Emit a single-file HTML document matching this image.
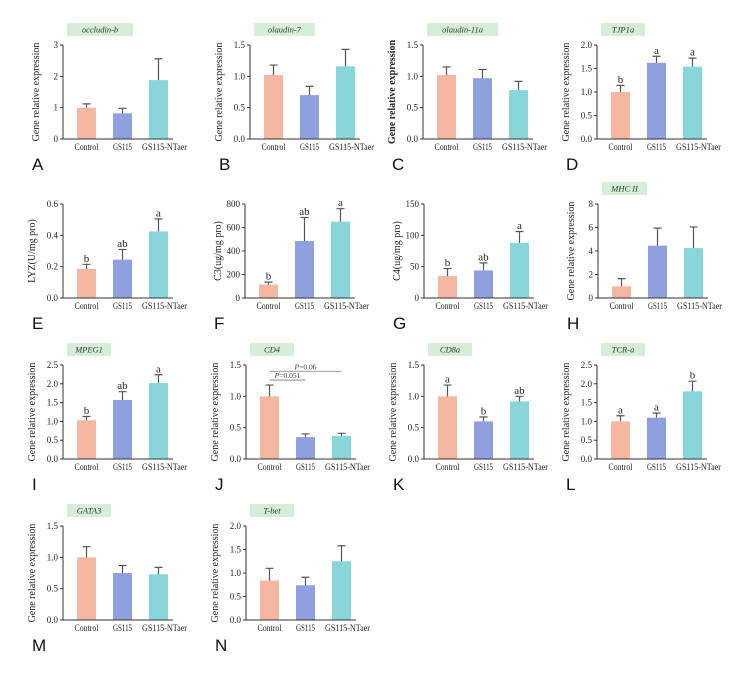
<!DOCTYPE html>
<html><head><meta charset="utf-8"><style>
html,body{margin:0;padding:0;background:#fff;}
svg{display:block;}
</style></head><body>
<svg id="fig" width="755" height="673" viewBox="0 0 755 673" xmlns="http://www.w3.org/2000/svg"></svg>
<script>
const categories = ["Control","GS115","GS115-NTaer"];
const barColors = ["#f5b6a2","#8ea0de","#88d6d9"];
// panel data
const meansA=[1.0,0.82,1.88], errsA=[0.12,0.16,0.68], ticksA=[0,1,2,3];
const meansB=[1.02,0.70,1.16], errsB=[0.16,0.14,0.27], ticksB=[0,0.5,1.0,1.5];
const meansC=[1.02,0.97,0.78], errsC=[0.13,0.14,0.14], ticksC=[0,0.5,1.0,1.5];
const meansD=[1.0,1.62,1.54], errsD=[0.14,0.14,0.18], ticksD=[0,0.5,1.0,1.5,2.0], lettersD=["b","a","a"];
const meansE=[0.185,0.245,0.425], errsE=[0.03,0.065,0.08], ticksE=[0,0.2,0.4,0.6], lettersE=["b","ab","a"];
const meansF=[115,485,650], errsF=[20,200,110], ticksF=[0,200,400,600,800], lettersF=["b","ab","a"];
const meansG=[35,44,88], errsG=[12,12,18], ticksG=[0,50,100,150], lettersG=["b","ab","a"];
const meansH=[1.0,4.45,4.25], errsH=[0.65,1.5,1.8], ticksH=[0,2,4,6,8];
const meansI=[1.03,1.57,2.02], errsI=[0.1,0.22,0.22], ticksI=[0,0.5,1.0,1.5,2.0,2.5], lettersI=["b","ab","a"];
const meansJ=[1.0,0.35,0.37], errsJ=[0.18,0.05,0.04], ticksJ=[0,0.5,1.0,1.5];
const bracketsJ=[{from:0,to:1,y:1.26,label:"=0.051"},{from:0,to:2,y:1.40,label:"=0.06"}];
const meansK=[1.0,0.6,0.92], errsK=[0.18,0.07,0.08], ticksK=[0,0.5,1.0,1.5], lettersK=["a","b","ab"];
const meansL=[1.0,1.1,1.8], errsL=[0.15,0.12,0.27], ticksL=[0,0.5,1.0,1.5,2.0,2.5], lettersL=["a","a","b"];
const meansM=[1.0,0.75,0.73], errsM=[0.17,0.12,0.11], ticksM=[0,0.5,1.0,1.5];
const meansN=[0.84,0.74,1.25], errsN=[0.26,0.17,0.33], ticksN=[0,0.5,1.0,1.5,2.0];

const GRE="Gene relative expression";
const panels=[
 {id:"A",x:63,b:139,title:"occludin-b",yl:GRE,m:meansA,e:errsA,t:ticksA,dec:0},
 {id:"B",x:250,b:139,title:"olaudin-7",yl:GRE,m:meansB,e:errsB,t:ticksB,dec:1},
 {id:"C",x:423,b:139,title:"olaudin-11a",yl:GRE,m:meansC,e:errsC,t:ticksC,dec:1,bold:true},
 {id:"D",x:597,b:139,title:"TJP1a",yl:GRE,m:meansD,e:errsD,t:ticksD,dec:1,l:lettersD},
 {id:"E",x:63,b:298,title:null,yl:"LYZ(U/mg pro)",m:meansE,e:errsE,t:ticksE,dec:1,l:lettersE},
 {id:"F",x:245,b:298,title:null,yl:"C3(ug/mg pro)",m:meansF,e:errsF,t:ticksF,dec:0,l:lettersF},
 {id:"G",x:424,b:298,title:null,yl:"C4(ug/mg pro)",m:meansG,e:errsG,t:ticksG,dec:0,l:lettersG},
 {id:"H",x:598,b:298,title:"MHC II",yl:GRE,m:meansH,e:errsH,t:ticksH,dec:0},
 {id:"I",x:63,b:459,title:"MPEG1",yl:GRE,m:meansI,e:errsI,t:ticksI,dec:1,l:lettersI},
 {id:"J",x:246,b:459,title:"CD4",yl:GRE,m:meansJ,e:errsJ,t:ticksJ,dec:1,br:bracketsJ},
 {id:"K",x:424,b:459,title:"CD8a",yl:GRE,m:meansK,e:errsK,t:ticksK,dec:1,l:lettersK},
 {id:"L",x:597,b:459,title:"TCR-a",yl:GRE,m:meansL,e:errsL,t:ticksL,dec:1,l:lettersL},
 {id:"M",x:63,b:620,title:"GATA3",yl:GRE,m:meansM,e:errsM,t:ticksM,dec:1},
 {id:"N",x:246,b:620,title:"T-bet",yl:GRE,m:meansN,e:errsN,t:ticksN,dec:1}
];
const NS="http://www.w3.org/2000/svg";
const svg=document.getElementById("fig");
function mk(tag,attrs,parent,text){const el=document.createElementNS(NS,tag);for(const k in attrs)el.setAttribute(k,attrs[k]);if(text!=null)el.textContent=text;parent.appendChild(el);return el;}
const H=94, BW=19, offs=[14,50,86];
const labShift=[0,0,6], labLen=[24,19,45];
panels.forEach(p=>{
  const g=mk("g",{},svg);
  
  
  const max=p.t[p.t.length-1];
  const top=p.b-H;
  const y=v=>p.b-v/max*H;
  const xc=i=>p.x+offs[i]+BW/2;
  if(p.title){
    const w=Math.max(44,p.title.length*5.2+14);
    const r=mk("rect",{x:p.x+4,y:top-22,width:w,height:13,fill:"#d5eed8"},g);
    
    
    const tt=mk("text",{x:p.x+4+w/2,y:top-12.5,"text-anchor":"middle","font-family":"Liberation Serif, serif","font-style":"italic","font-size":"8.5",fill:"#333"},g,p.title);
    
    
  }
  p.m.forEach((v,i)=>{
    const bx=p.x+offs[i];
    const rb=mk("rect",{x:bx,y:y(v),width:BW,height:p.b-y(v),fill:barColors[i]},g);
    
    
    const ey=y(v+p.e[i]);
    const eb=mk("path",{d:`M${xc(i)} ${y(v)}V${ey}M${xc(i)-4} ${ey}H${xc(i)+4}`,stroke:"#555",fill:"none","stroke-width":"1.2"},g);
    
    
    if(p.l){
      const lt=mk("text",{x:xc(i),y:ey-2.5,"text-anchor":"middle","font-family":"Liberation Serif, serif","font-size":"11",fill:"#222"},g,p.l[i]);
      
      
    }
    const xl=mk("text",{x:xc(i)+labShift[i],y:p.b+11,"text-anchor":"middle","font-family":"Liberation Serif, serif","font-size":"9",textLength:labLen[i],lengthAdjust:"spacingAndGlyphs",fill:"#222"},g,categories[i]);
    
    
  });
  const ax=mk("path",{d:`M${p.x} ${top}V${p.b}H${p.x+110}`,stroke:"#333",fill:"none","stroke-width":"1"},g);
  
  
  p.t.forEach(t=>{
    mk("line",{x1:p.x-3,x2:p.x,y1:y(t),y2:y(t),stroke:"#333","stroke-width":"1"},g);
    const tl=mk("text",{x:p.x-5,y:y(t)+3,"text-anchor":"end","font-family":"Liberation Serif, serif","font-size":"9",fill:"#222"},g,t.toFixed(p.dec));
    
    
  });
  const cy=(top+p.b)/2, lx=p.x-(p.dec?28:24);
  const yl=mk("text",{x:lx,y:cy,transform:`rotate(-90 ${lx} ${cy})`,"text-anchor":"middle","font-family":"Liberation Serif, serif","font-size":"10","font-weight":p.bold?"bold":"normal",fill:"#222"},g,p.yl);
  
  
  const pl=mk("text",{x:p.x-31,y:p.b+31,"font-family":"Liberation Sans, sans-serif","font-size":"17",fill:"#111"},g,p.id);
  
  
  if(p.br){
    p.br.forEach(b=>{
      const by=y(b.y);
      const bl=mk("line",{x1:xc(b.from),x2:xc(b.to),y1:by,y2:by,stroke:"#777","stroke-width":"0.8"},g);
      
      
      const bt=mk("text",{x:(xc(b.from)+xc(b.to))/2,y:by-2,"text-anchor":"middle","font-family":"Liberation Serif, serif","font-size":"7.5",fill:"#333"},g);
      
      
      mk("tspan",{"font-style":"italic"},bt,"P");
      mk("tspan",{},bt,b.label);
    });
  }
});
</script>
</body></html>
